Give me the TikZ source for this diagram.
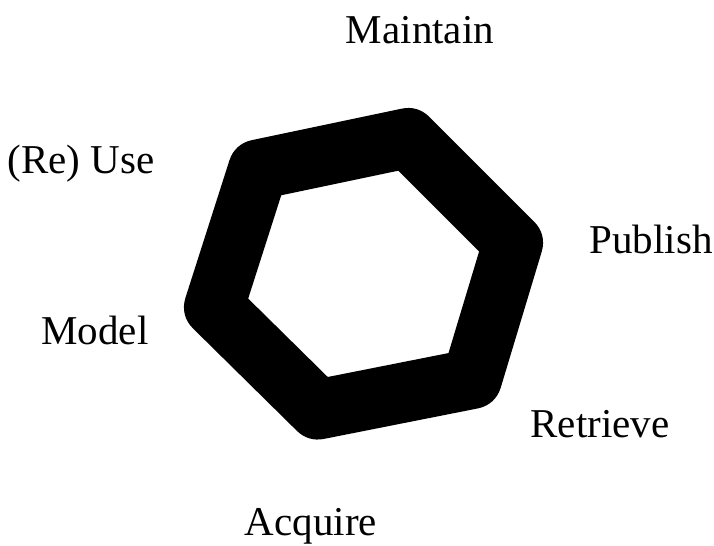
\documentclass[tikz,border=0pt]{standalone}
\usepackage{fontspec}
\setmainfont{Liberation Serif}
\usepackage{tikz}
\usetikzlibrary{positioning,calc}
\tikzset{
  % Stage label
  stage/.style={
    font=\fontsize{20.5}{24}\selectfont,
    anchor=base, inner sep=0pt
  },
  % Thick hexagon ring
  ring/.style={
    draw=black, line width=30pt, line join=round
  }
}
\begin{document}
\begin{tikzpicture}[x=0.5pt,y=-0.5pt]

  \useasboundingbox (0,0) rectangle (714,546);

  % Hexagon corners (centre line of the ring)
  \coordinate (h1) at (408,138);
  \coordinate (h2) at (513,243);
  \coordinate (h3) at (472,379);
  \coordinate (h4) at (318,409.5);
  \coordinate (h5) at (214,307);
  \coordinate (h6) at (258,169.5);

  \draw[ring] (h1) -- (h2) -- (h3) -- (h4) -- (h5) -- (h6) -- cycle;

  % Stage labels
  \node[stage] (maintain) at (420,43)  {Maintain};
  \node[stage] (reuse)    at (81,173)  {(Re) Use};
  \node[stage] (publish)  at (651,253) {Publish};
  \node[stage] (model)    at (95,344)  {Model};
  \node[stage] (retrieve) at (600,437) {Retrieve};
  \node[stage] (acquire)  at (311,535) {Acquire};

\end{tikzpicture}
\end{document}
